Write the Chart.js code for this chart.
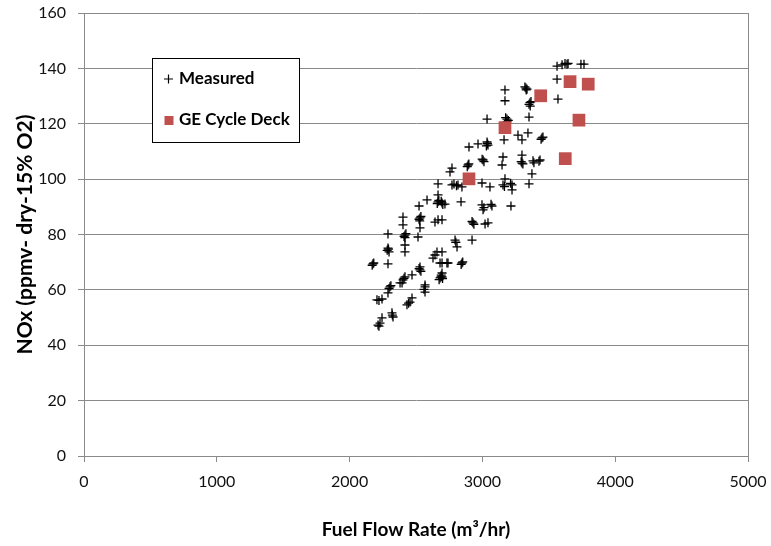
<!DOCTYPE html>
<html>
<head>
<meta charset="utf-8">
<script src="https://cdn.jsdelivr.net/npm/chart.js@4.4.1/dist/chart.umd.min.js"></script>
<style>
html,body{margin:0;padding:0;background:#fff;}
</style>
</head>
<body>
<canvas id="chart" width="771" height="546"></canvas>
<script>
// measured NOx vs fuel flow
const flowMeasured=[3562,3622,3637,3645,3600,3742,3765,3562,
  3328,3320,3336,3330,3170,3170,3358,3351,3366,3360,3569,
  3035,3185,3175,3195,3185,3351,3268,3343,3298,3163,3449,3442,3456,
  3035,3042,3038,3030,2899,2967,3155,3148,3298,3298,3292,3305,
  3381,3434,3426,3388,2892,2886,2898,3005,3012,2998,2771,
  2756,2771,2816,2786,2805,2846,2997,3057,3155,3223,3212,3166,3223,3170,3373,3351,
  2696,2690,2702,2839,2997,3005,3072,3065,3012,3215,
  2929,2922,2936,3020,3042,2696,2794,2809,2800,2922,2696,2696,2741,2846,2840,2852,2696,2690,2700,
  2666,2666,2583,2666,2660,2672,2718,2523,2402,2530,2523,2537,2528,2666,2643,2402,2530,
  2289,2417,2410,2424,2417,2515,2417,2289,2297,2293,2283,2417,2176,2170,2182,2289,
  2658,2643,2628,2681,2733,2530,2530,2523,2537,2417,2402,2410,2470,2568,2681,2674,2688,2696,
  2304,2297,2311,2380,2395,2289,2206,2244,2221,2568,2568,2560,2455,2432,2444,2470,
  2319,2327,2322,2244,2214,2229,2221];
const noxMeasured=[140.8,141.8,141.5,141.8,141.3,141.5,141.5,136.1,
  132.9,133.3,132.5,132.2,132.2,128.3,127.6,127,128,126.4,128.9,
  121.7,121.7,122.2,121.2,120.8,122.4,115.9,116.7,114.2,114.2,114.9,114.4,115.2,
  113.4,112.3,112.8,112,111.6,112.7,108,105.1,108.7,105.8,106.3,105.5,
  106.6,106.9,106.5,105.9,105.1,104.5,105.5,106.9,106.3,107.2,104,
  102.6,97.9,97.9,98.2,97.6,97.2,98.6,97.2,97.9,97.9,98.5,97.3,96.1,100.1,101.9,98.3,
  91.4,92,90.8,91.8,90.7,88.9,90.3,90.9,89.7,90.3,
  84.2,84.7,83.7,83.8,84.2,85.3,78,75.5,77.2,78,73.7,69.7,69.7,69.7,69.2,70.1,64.7,65.3,64.1,
  98.3,94.3,92.5,91.8,91.2,92.3,91,90.3,86.3,86,85.5,86.5,84.9,85.3,84.5,83.5,82.4,
  80.2,79.8,79.3,80.3,78.9,79.1,76.2,75.1,73.7,74.7,74.3,73.7,69.4,68.9,69.7,69.4,
  73.7,72.6,71.5,69.7,69.7,68.3,67.2,67.7,66.7,64.7,63.6,64.2,65.4,61.8,64.3,63.7,64.7,66.1,
  61.1,60.5,61.5,62.5,62.5,58.9,56.4,56.7,56.2,61.1,59.2,60.2,55.6,54.6,55.2,57.1,
  51.7,50.2,50.9,49.9,47.3,48,46.9];

// GE cycle deck predictions
const flowDeck=[2899,3170,3439,3660,3797,3727,3624];
const noxDeck=[100.1,118.6,130.1,135.2,134.3,121.3,107.4];

const xTicks=[0,1000,2000,3000,4000,5000];
const yTicks=[0,20,40,60,80,100,120,140,160];

const legendItems=['Measured','GE Cycle Deck'];
const deckRed='#C0504D';
const gridGrey='#8a8a8a';

const toPts=(xs,ys)=>xs.map((x,i)=>({x:x,y:ys[i]}));

// right edge of plot area + legend box drawn by hand (legend sits inside the plot)
const framePlugin={
  id:'frame',
  afterDraw(chart){
    const ctx=chart.ctx, a=chart.chartArea;
    ctx.save();
    ctx.strokeStyle=gridGrey; ctx.lineWidth=1;
    ctx.beginPath();
    ctx.moveTo(Math.round(a.right)+0.5,a.top);
    ctx.lineTo(Math.round(a.right)+0.5,a.bottom);
    ctx.stroke();

    // legend
    const bx=152, by=58, bw=147, bh=84;
    ctx.fillStyle='#fff';
    ctx.fillRect(bx,by,bw,bh);
    ctx.strokeStyle='#000';
    ctx.strokeRect(bx+0.5,by+0.5,bw,bh);
    ctx.font='bold 17px Lato';
    ctx.fillStyle='#000';
    ctx.textBaseline='middle';
    ctx.textAlign='left';
    // cross
    ctx.beginPath();
    ctx.moveTo(164,79); ctx.lineTo(173,79);
    ctx.moveTo(168.5,74.5); ctx.lineTo(168.5,83.5);
    ctx.lineWidth=1.2;
    ctx.stroke();
    ctx.fillText(legendItems[0],179,79);
    ctx.fillStyle=deckRed;
    ctx.fillRect(164.5,116,9,9);
    ctx.fillStyle='#000';
    ctx.fillText(legendItems[1],179,120);
    ctx.restore();
  }
};

new Chart(document.getElementById('chart'),{
  type:'scatter',
  data:{datasets:[
    {label:legendItems[0],data:toPts(flowMeasured,noxMeasured),pointStyle:'cross',pointRadius:4.5,
     borderColor:'#000',backgroundColor:'#000',pointBorderWidth:1.3,order:2},
    {label:legendItems[1],data:toPts(flowDeck,noxDeck),pointStyle:'rect',pointRadius:9,
     borderColor:deckRed,backgroundColor:deckRed,pointBorderWidth:0,order:1}
  ]},
  options:{
    responsive:false,
    animation:false,
    layout:{padding:{left:0,right:23,top:13,bottom:0}},
    plugins:{legend:{display:false},tooltip:{enabled:false}},
    scales:{
      x:{
        type:'linear',min:0,max:5000,
        afterBuildTicks:s=>{s.ticks=xTicks.map(v=>({value:v}));},
        afterFit:s=>{s.height=90;s.paddingLeft=0;s.paddingRight=0;},
        ticks:{font:{family:'Lato',size:16},color:'#111',padding:10,callback:v=>String(v)},
        grid:{drawOnChartArea:false,color:gridGrey,tickLength:6},
        border:{color:gridGrey},
        title:{display:true,text:'Fuel Flow Rate (m³/hr)',font:{family:'Lato',size:19,weight:'bold'},color:'#000',padding:{top:0,bottom:5}}
      },
      y:{
        type:'linear',min:0,max:160,
        afterBuildTicks:s=>{s.ticks=yTicks.map(v=>({value:v}));},
        afterFit:s=>{s.width=84;s.paddingTop=0;s.paddingBottom=0;},
        ticks:{font:{family:'Lato',size:16},color:'#111',padding:12,callback:v=>String(v)},
        grid:{color:gridGrey,tickLength:6},
        border:{color:gridGrey},
        title:{display:true,text:'NOx (ppmv- dry-15% O2)',font:{family:'Lato',size:21,weight:'bold'},color:'#000',padding:{top:13,bottom:0}}
      }
    }
  },
  plugins:[framePlugin]
});
</script>
</body>
</html>
